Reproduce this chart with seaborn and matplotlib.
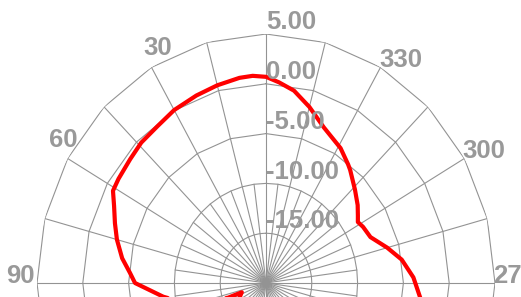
import numpy as np
import seaborn as sns
import matplotlib
matplotlib.use('Agg')
from matplotlib import pyplot as plt

# Radiation pattern: angle (deg, counter-clockwise from top) and gain (dB)
angle_deg = [-110, -100, -95, -88, -81, -75, -68, -62, -58.6, -56, -52, -46, -39, -37, -31, -22, -15, -9, -4,
             0, 4, 8, 15, 22, 30, 37, 44, 50, 57, 61, 65, 70, 75, 81, 86, 90, 97, 100, 105, 109.6, 109.4,
             125, 140, 155, 170, 185, 200, 215, 230, 250]
gain_db = [-3.3, -2.9, -3.1, -3.9, -5.0, -6.3, -7.7, -8.0, -8.25, -7.9, -7.3, -6.5, -5.4, -5.1, -4.2, -3.15, -1.7, -0.45, 0.2,
           0.7, 0.85, 0.8, 0.55, 0.3, 0.05, -0.3, -0.4, -0.65, -0.8, -0.9, -1.7, -2.45, -3.15, -4.1, -5.1, -5.7, -8.7, -10, -12.5, -15.6, -17.2,
           -16, -13, -11, -10, -10, -9.5, -8, -6, -3.3]

# grid rings and labels
ring_db = [5, 0, -5, -10, -15]
ring_labels = ['5.00', '0.00', '-5.00', '-10.00', '-15.00']
r_min = -20
angle_ticks = [30, 60, 90, 330, 300, 270]
angle_labels = ['30', '60', '90', '330', '300', '270']

sns.set_theme(style='white')
plt.rcParams['font.family'] = ['Liberation Sans', 'DejaVu Sans']

grid_c = '#939393'
text_c = '#999999'

fig = plt.figure(figsize=(5.21, 2.97), dpi=100)
ax = fig.add_axes([37 / 521, -235 / 297, 458 / 521, 498 / 297], projection='polar')
ax.set_aspect('auto')
ax.set_theta_zero_location('N')
ax.set_theta_direction(1)
ax.grid(False)
ax.set_xticks([])
ax.set_yticks([])
ax.spines['polar'].set_visible(False)

# rings drawn as polygons, finer near the centre
for r in ring_db:
    step = 15 if r >= -5 else 7.5
    th = np.deg2rad(np.arange(0, 360 + step, step))
    ax.plot(th, np.full(len(th), r), color=grid_c, lw=0.8, zorder=1)

# spokes: every 15 deg full length, extra 7.5 deg spokes up to the -10 ring
for a in np.arange(0, 360, 7.5):
    top = ring_db[0] if a % 15 == 0 else -10
    ax.plot([np.deg2rad(a)] * 2, [r_min, top], color=grid_c, lw=0.8, zorder=1)

sns.lineplot(x=np.deg2rad(angle_deg), y=gain_db, sort=False, estimator=None,
             color='#ff0000', lw=3.0, ax=ax, zorder=3)

ax.set_ylim(r_min, ring_db[0])
ax.set_xlabel('')
ax.set_ylabel('')

for r, lab in zip(ring_db, ring_labels):
    ax.annotate(lab, xy=(0, r), xytext=(0.3, 3.5), textcoords='offset points',
                ha='left', va='baseline', color=text_c, fontsize=18.5,
                fontweight='bold', annotation_clip=False)

# label offsets in pixels (left-side labels sit further out)
px = 0.72
label_off = {30: (20.5, 12.4), 60: (10, 11.5), 90: (-2, 0)}
for a, lab in zip(angle_ticks, angle_labels):
    if a in label_off:
        dx, dy = label_off[a]
        ha = 'right'
    else:
        dx, dy = -1.5, 0.5
        ha = 'left'
    ax.annotate(lab, xy=(np.deg2rad(a), ring_db[0]), xytext=(dx * px, dy * px),
                textcoords='offset points', ha=ha, va='baseline', color=text_c,
                fontsize=18.5, fontweight='bold', annotation_clip=False)

fig.savefig('out.png', dpi=100)
